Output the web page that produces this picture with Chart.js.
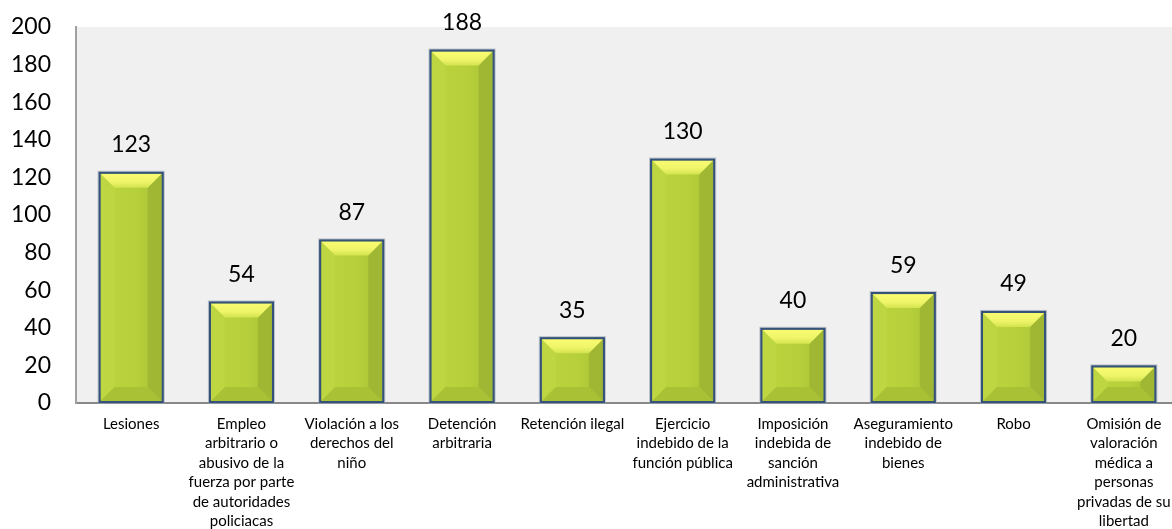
<!DOCTYPE html>
<html>
<head>
<meta charset="utf-8">
<script src="https://cdn.jsdelivr.net/npm/chart.js@4/dist/chart.umd.min.js"></script>
<style>
html,body{margin:0;padding:0;background:#fff;overflow:hidden;}
#wrap{position:relative;width:1180px;height:529px;}
</style>
</head>
<body>
<div id="wrap"><canvas id="c"></canvas></div>
<script>
const categories = [
  "Lesiones",
  ["Empleo","arbitrario o","abusivo de la","fuerza por parte","de autoridades","policiacas"],
  ["Violación a los","derechos del","niño"],
  ["Detención","arbitraria"],
  "Retención ilegal",
  ["Ejercicio","indebido de la","función pública"],
  ["Imposición","indebida de","sanción","administrativa"],
  ["Aseguramiento","indebido de","bienes"],
  "Robo",
  ["Omisión de","valoración","médica a","personas","privadas de su","libertad"]
];
const values = [123, 54, 87, 188, 35, 130, 40, 59, 49, 20];
const yTicks = [0, 20, 40, 60, 80, 100, 120, 140, 160, 180, 200];

const FONT = "Lato, 'Liberation Sans', sans-serif";

const plotBg = {
  id: 'plotBg',
  beforeDraw(chart) {
    const {ctx, chartArea: a} = chart;
    ctx.save();
    ctx.fillStyle = '#f0f0f0';
    ctx.fillRect(a.left, a.top, a.right - a.left, a.bottom - a.top);
    ctx.restore();
  }
};

function poly(ctx, pts, fill) {
  ctx.beginPath();
  ctx.moveTo(pts[0][0], pts[0][1]);
  for (let i = 1; i < pts.length; i++) ctx.lineTo(pts[i][0], pts[i][1]);
  ctx.closePath();
  ctx.fillStyle = fill;
  ctx.fill();
}

const bevel = {
  id: 'bevel',
  afterDatasetsDraw(chart) {
    const ctx = chart.ctx;
    const meta = chart.getDatasetMeta(0);
    ctx.save();
    meta.data.forEach((bar, i) => {
      const half = bar.width / 2;
      const bw = 2;
      const x0 = bar.x - half + bw, x1 = bar.x + half - bw;
      const y0 = bar.y + bw, y1 = bar.base - bw;
      const d = Math.min(14, (y1 - y0) / 2, (x1 - x0) / 2);
      ctx.strokeStyle = 'rgba(150,160,175,0.6)';
      ctx.lineWidth = 1;
      ctx.strokeRect(bar.x - half - 0.5, bar.y - 0.5, bar.width + 1, bar.base - bar.y + 1);
      const g = ctx.createLinearGradient(x0, 0, x1, 0);
      g.addColorStop(0, '#bcd53f');
      g.addColorStop(0.6, '#b6cf3a');
      g.addColorStop(1, '#a9c236');
      ctx.fillStyle = g;
      ctx.fillRect(x0, y0, x1 - x0, y1 - y0);
      poly(ctx, [[x0,y0],[x0+d,y0+d],[x0+d,y1-d],[x0,y1]], '#bed641');
      poly(ctx, [[x1,y0],[x1,y1],[x1-d,y1-d],[x1-d,y0+d]], '#a0b734');
      poly(ctx, [[x0,y1],[x1,y1],[x1-d,y1-d],[x0+d,y1-d]], '#a8c135');
      const gt = ctx.createLinearGradient(0, y0, 0, y0 + d);
      gt.addColorStop(0, '#fafc70');
      gt.addColorStop(0.6, '#eef468');
      gt.addColorStop(1, '#d2e34e');
      poly(ctx, [[x0,y0],[x1,y0],[x1-d,y0+d],[x0+d,y0+d]], gt);
      ctx.strokeStyle = '#34527a';
      ctx.lineWidth = 2;
      ctx.strokeRect(bar.x - half + 1, bar.y + 1, bar.width - 2, bar.base - bar.y - 2);
    });
    ctx.fillStyle = '#000';
    ctx.font = '23px ' + FONT;
    ctx.textAlign = 'center';
    ctx.textBaseline = 'middle';
    meta.data.forEach((bar, i) => {
      ctx.fillText(String(values[i]), bar.x, bar.y - 27);
    });
    ctx.restore();
  }
};

new Chart(document.getElementById('c'), {
  type: 'bar',
  data: {
    labels: categories,
    datasets: [{
      data: values,
      backgroundColor: '#b6cf3a',
      borderColor: '#34527a',
      borderWidth: 2,
      barPercentage: 0.59,
      categoryPercentage: 1.0
    }]
  },
  options: {
    responsive: true,
    maintainAspectRatio: false,
    animation: false,
    layout: { padding: { top: 27, left: 0, right: 1, bottom: 0 } },
    plugins: { legend: { display: false }, tooltip: { enabled: false } },
    scales: {
      x: {
        grid: { display: false, drawTicks: false },
        border: { display: true, color: '#888888', width: 2 },
        ticks: {
          color: '#000',
          font: { family: FONT, size: 15, lineHeight: 1.3 },
          maxRotation: 0, minRotation: 0, autoSkip: false, padding: 11
        },
        afterFit(s) { s.height = 126; s.paddingLeft = 0; s.paddingRight = 0; }
      },
      y: {
        min: 0, max: 200,
        afterBuildTicks(s) { s.ticks = yTicks.map(v => ({ value: v })); },
        grid: { display: false, drawTicks: false },
        border: { display: true, color: '#a0a0a0', width: 2 },
        ticks: {
          color: '#000',
          font: { family: FONT, size: 23 },
          padding: 25
        },
        afterFit(s) { s.width = 76; s.paddingTop = 0; s.paddingBottom = 0; }
      }
    }
  },
  plugins: [plotBg, bevel]
});
</script>
</body>
</html>
